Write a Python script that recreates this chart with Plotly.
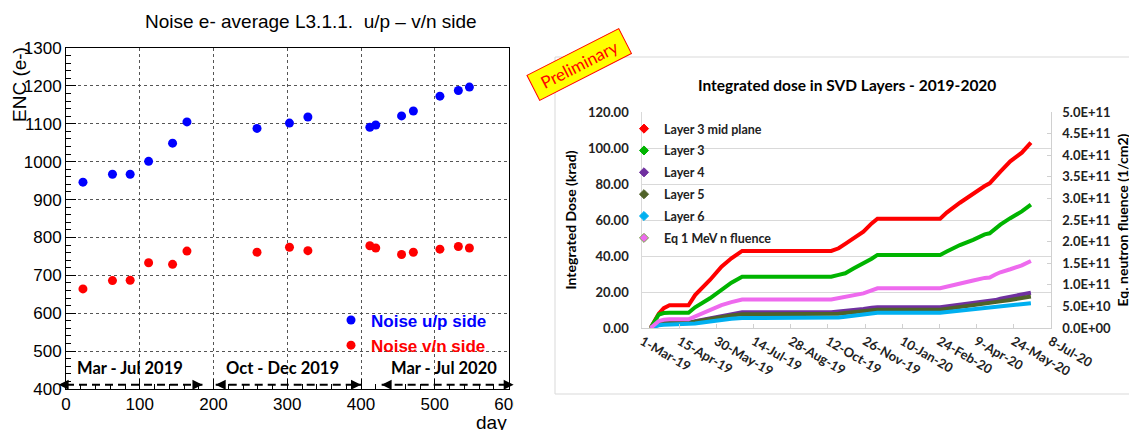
import plotly.graph_objects as go
import pandas as pd

# page body has an 8px margin: the figure fills the remaining viewport
OFF = 8
W, H = 1137 - OFF, 430 - OFF


def px(x):
    return (x - OFF) / W


def py(y):
    return 1 - (y - OFF) / H


# ---------------- Left chart: noise vs day ----------------
day = [23, 63, 87, 112, 144.5, 164, 259, 303, 328, 412, 420, 455, 471, 507, 532, 547]
noise_up = [946, 967, 967, 1001, 1049, 1105, 1088, 1102, 1118, 1091, 1097, 1121, 1134, 1173, 1188, 1197]
noise_vn = [664, 686, 687, 733, 729, 764, 761, 774, 765, 778, 772, 755, 761, 769, 776, 772]

period_labels = ["Mar - Jul 2019", "Oct - Dec 2019", "Mar - Jul 2020"]
period_label_x = [87, 293, 512]
period_start = [-10, 203, 428]
period_end = [185, 400, 607]
period_label_y = 456
period_arrow_y = 411

# ---------------- Right chart: integrated dose ----------------
start_date = "2019-03-01"
dose_day = [10, 15, 20, 26, 33, 56, 64, 82, 96, 108, 121, 229, 238, 246, 256, 268, 278, 285,
            361, 369, 385, 401, 415, 421, 428, 434, 446, 460, 471]
layer3_mid = [0, 4, 8, 11, 12.6, 12.6, 18.3, 26.7, 34.1, 38.7, 42.8, 42.8, 44.3, 46.7, 49.8, 53.5,
              58.1, 60.7, 60.7, 64.1, 69.6, 74.8, 78.9, 80.4, 84.1, 86.9, 92.6, 97.4, 103.0]
layer3 = [0, 3.5, 7.5, 8.3, 8.5, 8.5, 11.5, 16.5, 21.5, 25.2, 28.5, 28.5, 29.5, 30.4, 33.0, 35.8,
          38.5, 40.6, 40.6, 42.5, 46.1, 49.0, 52.0, 52.6, 55.2, 57.4, 61.0, 64.8, 68.5]
layer4 = [0, 1.5, 2.5, 2.9, 3.0, 3.0, 3.8, 5.5, 7.0, 8.0, 8.8, 8.8, 9.1, 9.5, 10.0, 10.6, 11.2,
          11.5, 11.5, 12.0, 13.0, 13.8, 14.4, 14.7, 15.5, 16.3, 17.2, 18.4, 19.6]
layer5 = [0, 1.4, 2.4, 2.8, 2.9, 2.9, 3.5, 5.0, 6.3, 7.0, 7.6, 7.6, 7.9, 8.3, 8.8, 9.3, 9.8,
          10.1, 10.1, 10.6, 11.5, 12.3, 13.1, 13.5, 14.2, 14.8, 15.6, 16.6, 17.5]
layer6 = [0, 0.9, 1.5, 1.8, 1.9, 1.9, 2.5, 3.6, 4.5, 5.1, 5.5, 5.5, 5.8, 6.2, 6.7, 7.3, 8.0,
          8.5, 8.5, 8.9, 9.6, 10.2, 10.7, 11.0, 11.5, 11.9, 12.5, 13.2, 13.8]
fluence = [0, 0.08e11, 0.16e11, 0.19e11, 0.2e11, 0.2e11, 0.27e11, 0.43e11, 0.53e11, 0.6e11,
           0.66e11, 0.66e11, 0.69e11, 0.72e11, 0.75e11, 0.8e11, 0.87e11, 0.92e11, 0.92e11,
           0.96e11, 1.03e11, 1.1e11, 1.16e11, 1.17e11, 1.24e11, 1.29e11, 1.36e11, 1.45e11, 1.55e11]

date_ticks = ["1-Mar-19", "15-Apr-19", "30-May-19", "14-Jul-19", "28-Aug-19", "12-Oct-19",
              "26-Nov-19", "10-Jan-20", "24-Feb-20", "9-Apr-20", "24-May-20", "8-Jul-20"]
fluence_ticks = [0, 0.5e11, 1.0e11, 1.5e11, 2.0e11, 2.5e11, 3.0e11, 3.5e11, 4.0e11, 4.5e11, 5.0e11]

dose_dates = pd.to_datetime(start_date) + pd.to_timedelta(dose_day, unit="D")
tick_dates = pd.to_datetime(date_ticks, format="%d-%b-%y")

ROOT_FONT = "Liberation Sans, Arial, sans-serif"
XL_FONT = "Lato, Carlito, sans-serif"

fig = go.Figure()

# ---- left chart traces ----
fig.add_trace(go.Scatter(
    x=day, y=noise_up, mode="markers", xaxis="x", yaxis="y",
    marker=dict(color="#0000ff", size=9),
    name='<span style="color:#0000ff">Noise u/p side</span>', legend="legend"))
fig.add_trace(go.Scatter(
    x=day, y=noise_vn, mode="markers", xaxis="x", yaxis="y",
    marker=dict(color="#ff0000", size=9),
    name='<span style="color:#ff0000">Noise v/n side</span>', legend="legend"))

for s, e in zip(period_start, period_end):
    fig.add_trace(go.Scatter(
        x=[max(s, 0), min(e, 600)], y=[period_arrow_y, period_arrow_y], mode="lines",
        xaxis="x", yaxis="y", line=dict(color="black", width=2, dash="8px,5px"),
        showlegend=False, hoverinfo="skip"))

annotations = []
for s, e in zip(period_start, period_end):
    for tip, tail in ((s, s + 12), (e, e - 12)):
        annotations.append(dict(
            x=tip, y=period_arrow_y, ax=tail, ay=period_arrow_y, xref="x", yref="y",
            axref="x", ayref="y", text="", showarrow=True, arrowhead=2, arrowsize=1,
            arrowwidth=2, arrowcolor="black"))
for lab, lx in zip(period_labels, period_label_x):
    annotations.append(dict(
        x=lx, y=period_label_y, xref="x", yref="y", text=lab, showarrow=False,
        xanchor="center", yanchor="middle",
        font=dict(family=XL_FONT, size=16.5, color="black", weight="bold")))

# ---- right chart traces ----
series = [
    ("Layer 3 mid plane", layer3_mid, "#ff0000", "y2"),
    ("Layer 3", layer3, "#00b400", "y2"),
    ("Layer 4", layer4, "#7030a0", "y2"),
    ("Layer 5", layer5, "#4f6228", "y2"),
    ("Layer 6", layer6, "#00b0f0", "y2"),
    ("Eq 1 MeV n fluence", fluence, "#ee6aee", "y3"),
]
for name, vals, col, ya in series:
    fig.add_trace(go.Scatter(
        x=dose_dates, y=vals, mode="lines", xaxis="x2", yaxis=ya,
        line=dict(color=col, width=4), legendgroup=name, showlegend=False, name=name))
for name, vals, col, ya in series:
    edge = "#7aa84a" if ya == "y3" else col
    fig.add_trace(go.Scatter(
        x=[None], y=[None], mode="markers", xaxis="x2", yaxis=ya,
        marker=dict(symbol="diamond", color=col, size=7, line=dict(color=edge, width=1)),
        legendgroup=name, name=name, legend="legend2"))

# ---- titles / text ----
annotations += [
    dict(x=px(310.5), y=py(21.5), xref="paper", yref="paper", showarrow=False,
         xanchor="center", yanchor="middle",
         text="Noise e- average L3.1.1.  u/p \u2013 v/n side",
         font=dict(family=ROOT_FONT, size=19, color="black")),
    dict(x=px(20), y=py(85), xref="paper", yref="paper", showarrow=False,
         xanchor="center", yanchor="middle", text="ENC (e-)", textangle=-90,
         font=dict(family=ROOT_FONT, size=19, color="black")),
    dict(x=1, y=-0.1, xref="x domain", yref="y domain", xanchor="right", yanchor="middle",
         showarrow=False, text="day", font=dict(family=ROOT_FONT, size=19, color="black")),
    dict(x=px(847), y=py(85), xref="paper", yref="paper", showarrow=False,
         xanchor="center", yanchor="middle",
         text="Integrated dose in SVD Layers - 2019-2020",
         font=dict(family=XL_FONT, size=15.5, color="black", weight="bold")),
    dict(x=px(579), y=py(64), xref="paper", yref="paper", showarrow=False,
         xanchor="center", yanchor="middle",
         text="Preliminary", textangle=-27, bgcolor="#ffff00", bordercolor="#ff0000",
         borderwidth=1, borderpad=3, width=96,
         font=dict(family=XL_FONT, size=17, color="#ff0000")),
]

shapes = [
    dict(type="rect", xref="paper", yref="paper", x0=px(555), x1=1.02,
         y0=py(394), y1=py(57), line=dict(color="#d9d9d9", width=1), layer="below"),
    # the left canvas is cropped just right of its frame
    dict(type="rect", xref="paper", yref="paper", x0=px(513.5), x1=px(548),
         y0=-0.02, y1=py(394), line=dict(width=0), fillcolor="white", layer="above"),
]

root_axis = dict(
    showline=True, linecolor="black", linewidth=1, mirror=True,
    ticks="inside", ticklen=10, tickcolor="black", tickwidth=1,
    showgrid=True, gridcolor="#555555", griddash="dot", gridwidth=1,
    zeroline=False, automargin=False,
    tickfont=dict(family=ROOT_FONT, size=17, color="black"),
)

xl_tickfont = dict(family=XL_FONT, size=13, color="#222222", weight="bold")

fig.update_layout(
    width=W, height=H, margin=dict(l=0, r=0, t=0, b=0, autoexpand=False),
    paper_bgcolor="white", plot_bgcolor="rgba(0,0,0,0)",
    xaxis=dict(domain=[px(66), px(508.5)], range=[0, 600], dtick=100, anchor="y",
               minor=dict(ticks="inside", ticklen=5, dtick=20, tickcolor="black", showgrid=False),
               **root_axis),
    yaxis=dict(domain=[py(388.9), py(48.1)], range=[400, 1300], dtick=100, anchor="x",
               minor=dict(ticks="inside", ticklen=5, dtick=20, tickcolor="black", showgrid=False),
               **root_axis),
    xaxis2=dict(domain=[px(642.3), px(1050.7)], type="date",
                range=[tick_dates[0], tick_dates[-1]], anchor="y2",
                tickvals=tick_dates, ticktext=date_ticks, tickangle=30,
                ticks="inside", ticklen=4, tickcolor="#d0d0d0",
                showline=True, linecolor="#d0d0d0", linewidth=1, showgrid=False,
                zeroline=False, automargin=False, tickfont=xl_tickfont),
    yaxis2=dict(domain=[py(328), py(112)], range=[0, 120], dtick=20, tickformat=".2f",
                anchor="x2", showline=True, linecolor="#d9d9d9", showgrid=True,
                gridcolor="#d9d9d9", gridwidth=1, zeroline=False, ticks="",
                automargin=False, ticklabelstandoff=10, tickfont=xl_tickfont,
                title=dict(text="Integrated Dose (krad)", standoff=8,
                           font=dict(family=XL_FONT, size=14, color="black", weight="bold"))),
    yaxis3=dict(overlaying="y2", side="right", anchor="x2", range=[0, 5e11],
                tickvals=fluence_ticks, ticktext=[f"{v:.1E}" for v in fluence_ticks],
                showline=True, linecolor="#d0d0d0", showgrid=False, zeroline=False,
                ticks="inside", ticklen=4, tickcolor="#d0d0d0", ticklabelstandoff=8,
                automargin=False, tickfont=xl_tickfont,
                title=dict(text="Eq. neutron fluence (1/cm2)", standoff=8,
                           font=dict(family=XL_FONT, size=14, color="black", weight="bold"))),
    legend=dict(x=px(331), y=py(302.5), xanchor="left", yanchor="top",
                bgcolor="rgba(0,0,0,0)", borderwidth=0,
                font=dict(family=ROOT_FONT, size=17, weight="bold")),
    legend2=dict(x=px(624), y=py(114), xanchor="left", yanchor="top",
                 bgcolor="rgba(0,0,0,0)", borderwidth=0, traceorder="grouped",
                 tracegroupgap=2.6,
                 font=dict(family=XL_FONT, size=12.5, color="#222222", weight="bold")),
    annotations=annotations,
    shapes=shapes,
)

fig.write_html("out.html")
